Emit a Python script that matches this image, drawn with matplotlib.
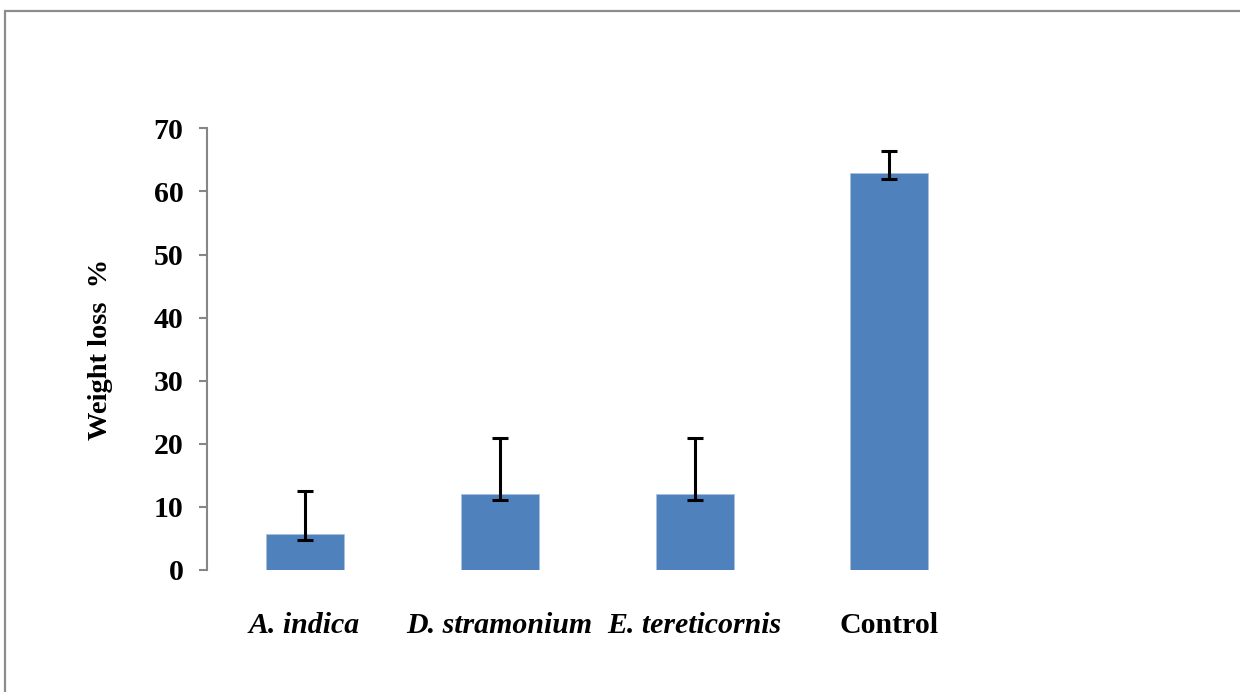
import matplotlib
matplotlib.use("Agg")
import matplotlib.pyplot as plt
from matplotlib.patches import Rectangle

# データ
categories = ["A. indica", "D. stramonium", "E. tereticornis", "Control"]
italic_flags = [True, True, True, False]
weight_loss = [5.7, 12.0, 12.0, 62.9]
err_low = [0.95, 0.95, 0.95, 1.0]
err_high = [6.8, 8.9, 8.9, 3.5]
yticks = [0, 10, 20, 30, 40, 50, 60, 70]

plt.rcParams["font.family"] = ["Liberation Serif", "DejaVu Serif"]

fig = plt.figure(figsize=(12.4, 6.92), dpi=100)

# 外枠
fig.add_artist(Rectangle((5 / 1240, -0.05), 1.2, 1 - 11 / 692 + 0.05,
                         transform=fig.transFigure, fill=False,
                         edgecolor="#8c8c8c", linewidth=1.6))

ax = fig.add_axes([207 / 1240, 122 / 692, 780 / 1240, 441.7 / 692])
x = range(len(categories))
ax.bar(x, weight_loss, width=0.4, color="#4F81BD", edgecolor="#a9c0de",
       linewidth=0.6, zorder=2)
ax.errorbar(x, weight_loss, yerr=[err_low, err_high], fmt="none",
            ecolor="black", elinewidth=2.2, capsize=6, capthick=2.2, zorder=3)

ax.set_xlim(-0.5, 3.5)
ax.set_ylim(0, 70)
ax.set_yticks(yticks)
ax.set_yticklabels([str(v) for v in yticks], fontsize=21.5, fontweight="bold")
ax.set_xticks(list(x))
ax.set_xticklabels(categories, fontsize=21.5, fontweight="bold")
for lbl, it in zip(ax.get_xticklabels(), italic_flags):
    if it:
        lbl.set_fontstyle("italic")

for s in ["top", "right", "bottom"]:
    ax.spines[s].set_visible(False)
ax.spines["left"].set_color("#868686")
ax.spines["left"].set_linewidth(1.5)
ax.tick_params(axis="y", direction="out", length=6, width=1.5,
               color="#868686", pad=11)
ax.tick_params(axis="x", length=0, pad=30)

ax.set_ylabel("Weight loss  %", fontsize=20.5, fontweight="bold", labelpad=29)

fig.savefig("out.png", dpi=100)
